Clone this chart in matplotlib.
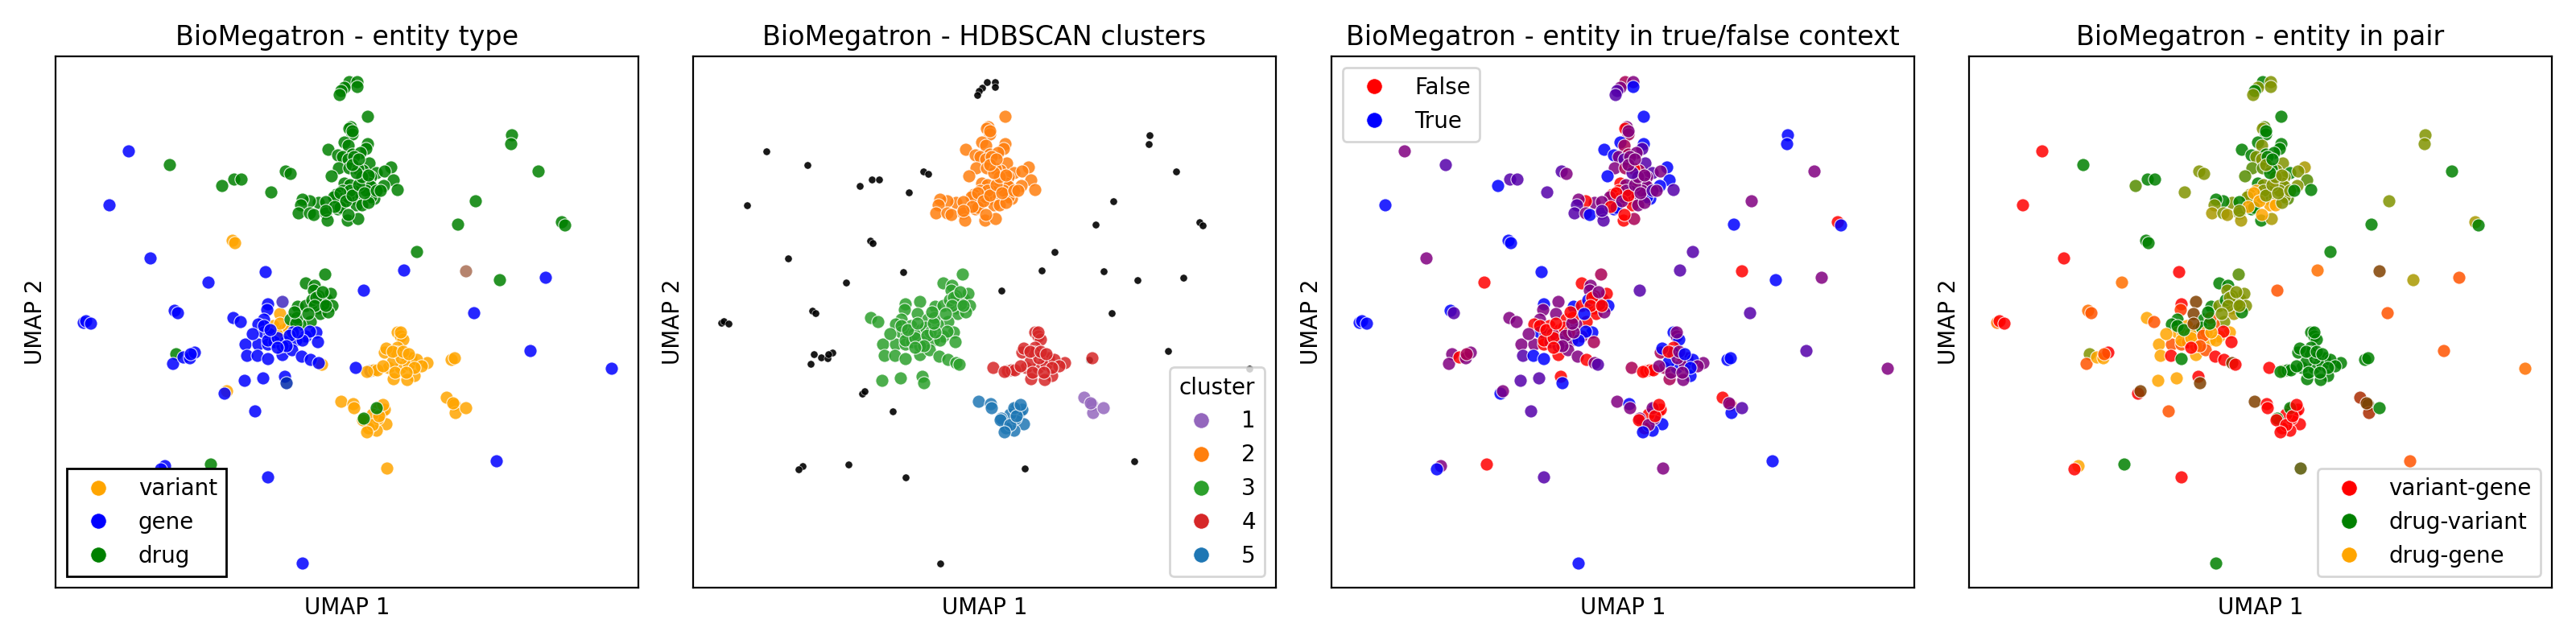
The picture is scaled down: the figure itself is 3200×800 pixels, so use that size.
# UMAP das entidades do BioMegatron, quatro paineis com as mesmas posicoes
import matplotlib
matplotlib.use('Agg')
import matplotlib.pyplot as plt
from matplotlib.colors import to_rgb
from matplotlib.lines import Line2D
import numpy as np

# Pontos isolados (sem cluster no HDBSCAN)
x_noise = [365, 375, 375, 359, 355, 353, 91, 142, 67, 118, 190, 261, 207, 222, 231, 268, 286, 292, 220, 223,
           148, 152, 35, 38, 44, 150, 146, 159, 167, 173, 168, 433, 510, 449, 383, 500, 522, 552, 609, 520,
           590, 691, 567, 566, 600, 629, 633, 210, 213, 248, 193, 136, 131, 264, 412, 548, 307, 492]
y_noise = [32, 32, 38, 39, 43, 48, 118, 135, 185, 251, 281, 268, 161, 153, 153, 169, 143, 146, 229, 232,
           316, 319, 331, 329, 332, 370, 382, 374, 375, 368, 370, 266, 267, 243, 291, 209, 180, 278, 275, 319,
           366, 388, 98, 109, 143, 206, 210, 419, 416, 441, 507, 509, 513, 523, 512, 503, 630, 377]
ent_noise = """D D D D D D G D G G G G D D D D D D V V
G G G G G D G G G G G G VVG D G D D D G G
G G D D D D D G V G D G G G V G G V""".split()
ctx_noise = """FFT FT T FT FTT FTT FT TTF T FT F T T TTF TTF TTF TTF FT T T
T FTT T T T FT FT F FT FT FFT TTF F FTT TTF T FT T FT TTF
TTF FT T T FT F T T FT TTF F FT T TTF FT T T T""".split()
pair_noise = """D DG DG DG D DG V D V V VGG V DDG D D DG DG GD D D
VGG VG VGG V V DG VG G G V VG VGG VD D VG D DG DGG VG VG
VG VGG DG DG D DGG D V VD VG D G V V VDD VG D D""".split()

# Cluster 1
x_c1 = [486, 496, 497, 510, 494]
y_c1 = [424, 433, 443, 437, 431]
ent_c1 = "V V V V V".split()
ctx_c1 = "F F T FTT FT".split()
pair_c1 = "VVD VDD VVD D VD".split()

# Cluster 2
x_c2 = [388, 367, 365, 369, 369, 359, 364, 388, 386, 339, 351, 357, 369, 379, 364, 390, 371, 352, 365, 343, 382,
        376, 399, 417, 409, 420, 408, 425, 392, 389, 379, 392, 359, 366, 372, 357, 349, 357, 357, 372, 374, 364,
        396, 392, 386, 351, 346, 327, 336, 316, 307, 305, 302, 316, 321, 336, 338, 363, 376, 354, 366, 381, 389,
        354, 361, 369, 377, 384, 399, 381, 374, 347, 336, 364, 389, 404, 369, 377]
y_c2 = [75, 88, 90, 97, 93, 107, 111, 109, 115, 116, 123, 125, 122, 120, 128, 133, 125, 139, 139, 149, 142,
        140, 145, 138, 143, 154, 161, 166, 150, 158, 163, 162, 158, 160, 168, 167, 172, 177, 183, 177, 185, 175,
        177, 175, 167, 190, 175, 182, 181, 180, 178, 185, 195, 195, 197, 195, 204, 204, 202, 188, 167, 185, 182,
        170, 180, 173, 160, 170, 167, 150, 145, 187, 192, 197, 148, 167, 135, 128]
ent_c2 = ["D"] * len(x_c2)
ctx_c2 = """T FT F FFT FT T FFT T FTT T T FT FFT FT FTT FTT FT FT FFT T FFT
F FTT T FT T T FTT FT FT FFT FT F FT FTT F F F F FT F FT
T T FT T FT FT FT F FT FTT FTT FT T FTT FTT F FFT T FT FT FT
F FT F FT FT FTT FT FTT F FTT F FT FT FT FT""".split()
pair_c2 = """D DDG DG D D D DG D D D D DG D D DG DG D DDG DDG DDG DG
D D GGD DG DDG DG D DG DG G DG D DG DG G DGG G G DGG G DG
DDG DG DG D DG DG D D D DG DGG DG DGG DG GGD D DGG D DG G DG
G G DG DG DG DG DG D G DG G DG D DG D""".split()

# Cluster 3
x_c3 = [335, 311, 322, 321, 337, 342, 344, 327, 329, 339, 301, 311, 319, 317, 282, 264, 263, 279, 259, 252,
        221, 230, 271, 292, 304, 324, 259, 266, 284, 289, 311, 316, 326, 236, 252, 264, 272, 286, 299, 307,
        238, 251, 264, 282, 294, 306, 317, 327, 331, 235, 258, 285, 287, 275, 295, 245, 300, 282, 327, 333,
        264, 276, 291, 301, 287, 276, 259, 267, 279, 299, 324, 332, 322, 336, 314, 297]
y_c3 = [271, 282, 285, 291, 302, 295, 310, 313, 320, 318, 311, 310, 303, 330, 305, 308, 315, 320, 327, 333,
        325, 330, 335, 327, 333, 343, 343, 345, 340, 337, 348, 342, 355, 358, 358, 358, 355, 355, 353, 353,
        372, 372, 376, 371, 365, 373, 377, 381, 383, 403, 400, 398, 406, 345, 343, 345, 325, 360, 298, 308,
        353, 350, 347, 343, 360, 362, 335, 340, 332, 332, 300, 293, 310, 310, 320, 318]
ent_c3 = """D D D D D D D D D D D D D D GGGV G G V G G
G G V D D G G G V V G G G G G G G G G G
G G G G G G G G V G G G GGD V G G D G D D
G G G G G G G G V D D D D D D D""".split()
ctx_c3 = """FFT F FT FT FT F T F F FT T F T F FT T FT FT FT F
FT FT F F FT T T FT F F FT T FFT FT FT F FT FT FT T
FTT T T F FT FT F FT FTT FTT FTT F T FFT F FT F FT F FFT
F F FT FT FT F F F F FT F FT F F T F""".split()
pair_c3 = """DDG D D DG DG DG DG DG DGG D D DG D DG VD V VVG VD D D
G VG G D VG G G G DG D G V V G VG VG V G G G
G V D G VG V V VD V G G V VD G G G VG G DG DG
G G VG G VG V D D VD D DG DG DG DG DG D""".split()

# Cluster 4
x_c4 = [373, 391, 396, 425, 429, 432, 425, 409, 414, 420, 437, 442, 429, 446, 437, 462, 439, 419, 424, 449, 496,
        400, 455, 430, 429, 411, 419, 432, 439, 446, 422, 436, 407, 387]
y_c4 = [387, 391, 390, 343, 348, 352, 362, 368, 387, 401, 375, 375, 387, 397, 402, 381, 383, 380, 368, 377, 375,
        390, 385, 375, 343, 363, 367, 367, 370, 387, 393, 393, 385, 392]
ent_c4 = ["G", "VG"] + ["V"] * 32
ctx_c4 = """FFT F F T FT T F FFT FFT FFT F FT T T FT FT FT T T T T F FT FT
FT T F FT T T FT FT FT F""".split()
pair_c4 = ["V", "DG"] + ["D"] * 32

# Cluster 5
x_c5 = [355, 370, 371, 386, 406, 401, 411, 399, 401, 389, 409, 394, 383, 399, 382, 394, 402, 407, 387]
y_c5 = [429, 432, 437, 455, 442, 438, 457, 465, 450, 462, 439, 445, 450, 437, 452, 458, 447, 433, 467]
ent_c5 = "V V V V V V V V V V V V D D V V V V V".split()
ctx_c5 = "FT T TF FFT F T T T FT F F F FT FT F FT F F T".split()
pair_c5 = "VD V V V V V V V V V V V D D V V V V V".split()

cores_tipo = {'V': 'orange', 'G': 'blue', 'D': 'green'}
cores_contexto = {'F': 'red', 'T': 'blue'}
cores_par = {'V': 'red', 'D': 'green', 'G': 'orange'}
cores_cluster = {0: 'black', 1: 'tab:purple', 2: 'tab:orange', 3: 'tab:green', 4: 'tab:red', 5: 'tab:blue'}

x = np.array(x_noise + x_c1 + x_c2 + x_c3 + x_c4 + x_c5)
y = np.array(y_noise + y_c1 + y_c2 + y_c3 + y_c4 + y_c5)
ent = ent_noise + ent_c1 + ent_c2 + ent_c3 + ent_c4 + ent_c5
ctx = ctx_noise + ctx_c1 + ctx_c2 + ctx_c3 + ctx_c4 + ctx_c5
pair = pair_noise + pair_c1 + pair_c2 + pair_c3 + pair_c4 + pair_c5
cluster = np.array([0] * len(x_noise) + [1] * len(x_c1) + [2] * len(x_c2) + [3] * len(x_c3)
                   + [4] * len(x_c4) + [5] * len(x_c5))


# Mistura as cores quando a entidade aparece em mais de uma categoria
def misturar(codigos, paleta):
    return [tuple(np.mean([to_rgb(paleta[c]) for c in codigo], axis=0)) for codigo in codigos]


def handles(nomes, cores):
    return [Line2D([], [], linestyle='', marker='o', markersize=7, color=c, markeredgecolor='white',
                   markeredgewidth=0.3, label=n) for n, c in zip(nomes, cores)]


def montar_eixo(fig, esquerda, titulo):
    ax = fig.add_axes([esquerda / 3200, 70 / 800, 724 / 3200, 660 / 800])
    ax.set_xlim(0, 724)
    ax.set_ylim(660, 0)
    ax.set_xticks([])
    ax.set_yticks([])
    ax.set_title(titulo, fontsize=12, pad=5)
    ax.set_xlabel('UMAP 1', fontsize=10, labelpad=4)
    ax.set_ylabel('UMAP 2', fontsize=10, labelpad=4)
    return ax


fig = plt.figure(figsize=(16, 4), dpi=200)
estilo = dict(s=34, edgecolors='white', linewidths=0.4, alpha=0.85)

# Painel 1: tipo de entidade (genes por cima das variantes)
ax1 = montar_eixo(fig, 69, 'BioMegatron - entity type')
ordem = sorted(range(len(x)), key=lambda i: 'VDG'.index(ent[i][0]))
ax1.scatter(x[ordem], y[ordem], c=misturar([ent[i] for i in ordem], cores_tipo), **estilo)
ax1.legend(handles=handles(['variant', 'gene', 'drug'], ['orange', 'blue', 'green']), loc='lower left',
           fancybox=False, edgecolor='black', framealpha=1, fontsize=10)

# Painel 2: clusters HDBSCAN, ruido com marcador menor
ax2 = montar_eixo(fig, 861, 'BioMegatron - HDBSCAN clusters')
ruido = cluster == 0
ax2.scatter(x[ruido], y[ruido], c='black', s=11, edgecolors='white', linewidths=0.2, alpha=0.9)
ax2.scatter(x[~ruido], y[~ruido], c=[cores_cluster[k] for k in cluster[~ruido]], **estilo)
ax2.legend(handles=handles(['1', '2', '3', '4', '5'], [cores_cluster[k] for k in range(1, 6)]),
           title='cluster', loc='lower right', fontsize=10, title_fontsize=10)

# Painel 3: contexto verdadeiro/falso
ax3 = montar_eixo(fig, 1654, 'BioMegatron - entity in true/false context')
ax3.scatter(x, y, c=misturar(ctx, cores_contexto), **estilo)
ax3.legend(handles=handles(['False', 'True'], ['red', 'blue']), loc='upper left', fontsize=10)

# Painel 4: par de entidades
ax4 = montar_eixo(fig, 2446, 'BioMegatron - entity in pair')
ax4.scatter(x, y, c=misturar(pair, cores_par), **estilo)
ax4.legend(handles=handles(['variant-gene', 'drug-variant', 'drug-gene'], ['red', 'green', 'orange']),
           loc='lower right', fontsize=10)

fig.savefig('out.png', dpi=200)
plt.close(fig)
